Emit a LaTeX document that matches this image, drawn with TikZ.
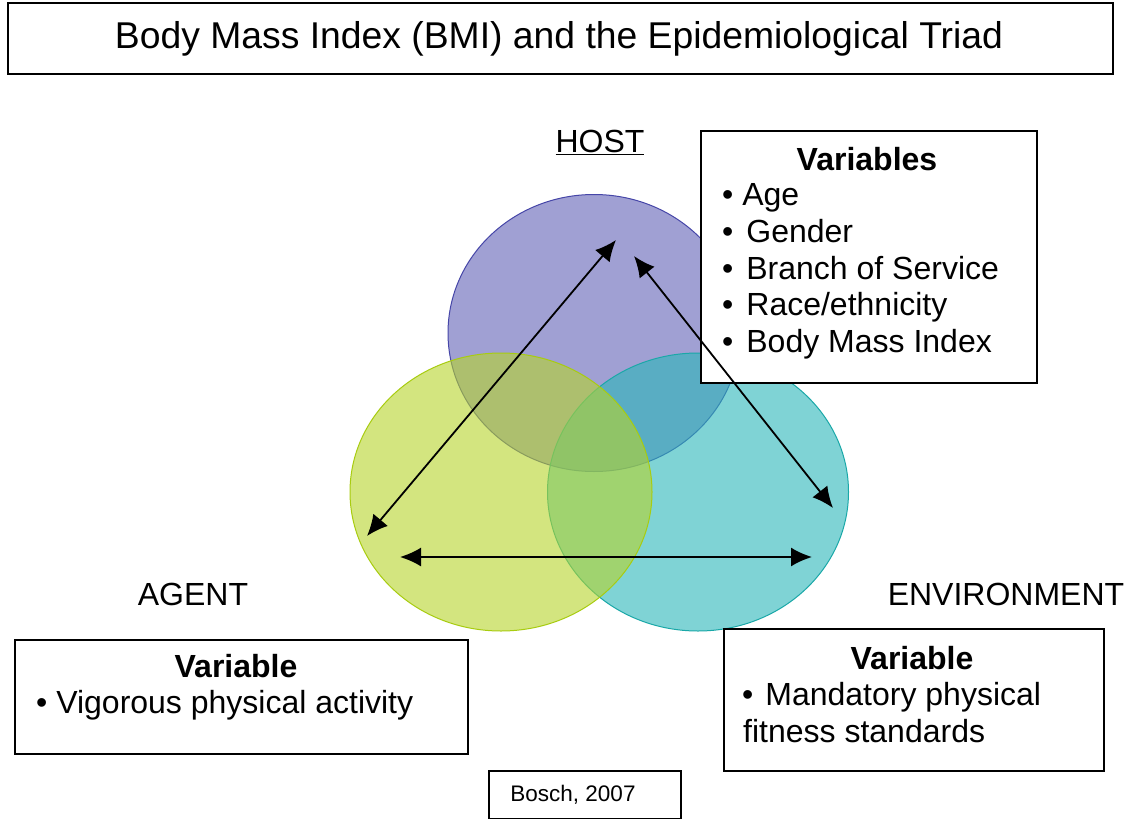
\documentclass[tikz,border=0pt]{standalone}
\usepackage{fontspec}
\setmainfont{Liberation Sans}
\usetikzlibrary{arrows.meta,shapes.geometric}
\newcommand\myfs[1]{\fontsize{#1}{#1}\selectfont}
\definecolor{hostfill}{RGB}{97,97,183}
\definecolor{hostline}{RGB}{70,70,168}
\definecolor{agentfill}{RGB}{182,212,43}
\definecolor{agentline}{RGB}{168,204,16}
\definecolor{envfill}{RGB}{43,182,185}
\definecolor{envline}{RGB}{26,168,168}
\begin{document}
\begin{tikzpicture}[x=1pt,y=-1pt,
  circ/.style={ellipse, inner sep=0pt, line width=1pt, fill opacity=0.6},
  box/.style={draw=black, line width=1.5pt, fill=white, rectangle, inner sep=0pt, anchor=north west},
  txt/.style={inner sep=0pt, font=\myfs{32}},
  twoway/.style={{Latex[length=21pt,width=19pt]}-{Latex[length=21pt,width=19pt]}, line width=1.8pt, black}
]
\useasboundingbox (0,0) rectangle (1130,819);
\fill[white] (0,0) rectangle (1130,819);

% title
\node[box, minimum width=1105pt, minimum height=71pt] (titlebox) at (7,2) {};
\node[inner sep=0pt, font=\myfs{37.3}, anchor=base] (title) at (559,48) {Body Mass Index (BMI) and the Epidemiological Triad};

% circles
\node[circ, draw=hostline, fill=hostfill, minimum width=292pt, minimum height=277pt] (host) at (594,333) {};
\node[circ, draw=envline, fill=envfill, minimum width=301pt, minimum height=278pt] (env) at (698,492) {};
\node[circ, draw=agentline, fill=agentfill, minimum width=302pt, minimum height=278pt] (agent) at (501,492) {};

% labels
\node[txt, anchor=base] (hostlbl) at (600,152) {\underline{HOST}};
\node[txt, anchor=base] (agentlbl) at (193,605) {AGENT};
\node[txt, anchor=base] (envlbl) at (1006,605) {ENVIRONMENT};

% host variables box
\node[box, minimum width=336pt, minimum height=252pt] (hostbox) at (700,130) {};
\node[txt, anchor=base, font=\myfs{32}\bfseries] (hostvh) at (867,170) {Variables};
\node[txt, anchor=base west] (hv1) at (722,205) {• Age};
\node[txt, anchor=base west] (hv2) at (722,242) {•\hspace{13pt}Gender};
\node[txt, anchor=base west] (hv3) at (722,279) {•\hspace{13pt}Branch of Service};
\node[txt, anchor=base west] (hv4) at (722,315) {•\hspace{13pt}Race/ethnicity};
\node[txt, anchor=base west] (hv5) at (722,352) {•\hspace{13pt}Body Mass Index};

% agent variable box
\node[box, minimum width=453pt, minimum height=114pt] (agentbox) at (14,639) {};
\node[txt, anchor=base, font=\myfs{32}\bfseries] (agentvh) at (236,677) {Variable};
\node[txt, anchor=base west] (av1) at (36,713) {• Vigorous physical activity};

% environment variable box
\node[box, minimum width=380pt, minimum height=142pt] (envbox) at (723,628) {};
\node[txt, anchor=base, font=\myfs{32}\bfseries] (envvh) at (912,669) {Variable};
\node[txt, anchor=base west] (ev1) at (742,705) {•\hspace{12pt}Mandatory physical};
\node[txt, anchor=base west] (ev2) at (743,742) {fitness standards};

% source box
\node[box, minimum width=192pt, minimum height=48pt] (srcbox) at (488,770) {};
\node[inner sep=0pt, font=\myfs{22.5}, anchor=base] (src) at (573,801) {Bosch, 2007};

% arrows
\coordinate (hA) at (616,240);
\coordinate (aH) at (367,536);
\coordinate (hE) at (634,256);
\coordinate (eH) at (833,508);
\coordinate (aE) at (400,557);
\coordinate (eA) at (812,557);
\draw[twoway] (aH) -- (hA);
\draw[twoway] (hE) -- (eH);
\draw[twoway] (aE) -- (eA);
\end{tikzpicture}
\end{document}
